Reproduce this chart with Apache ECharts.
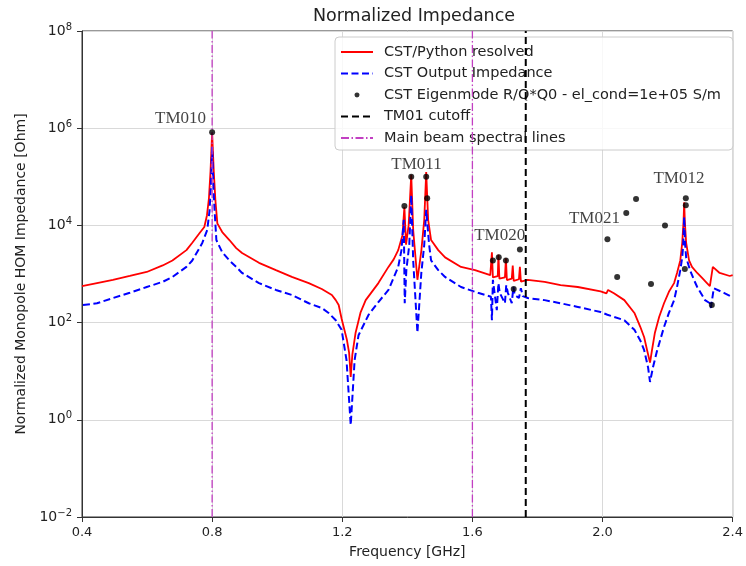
<!DOCTYPE html>
<html><head><meta charset="utf-8">
<script src="https://cdn.jsdelivr.net/npm/echarts@6/dist/echarts.min.js"></script>
<style>html,body{margin:0;padding:0;background:#fff}#c{width:746px;height:566px}</style>
</head><body><div id="c"></div>
<script>
// ---- data (frequency in GHz, impedance in Ohm) ----
const xTicks = [0.4, 0.8, 1.2, 1.6, 2.0, 2.4];
const yExponents = [-2, 0, 2, 4, 6, 8];

const redFreq = [0.400,0.446,0.495,0.547,0.599,0.648,0.678,0.721,0.739,0.761,0.776,0.784,0.790,0.795,0.800,0.805,0.810,0.816,0.831,0.853,0.874,0.892,0.944,0.996,1.045,1.097,1.137,1.168,1.180,1.189,1.198,1.214,1.221,1.226,1.231,1.241,1.256,1.272,1.311,1.342,1.358,1.372,1.385,1.391,1.396,1.404,1.412,1.418,1.431,1.443,1.452,1.458,1.464,1.473,1.495,1.516,1.565,1.608,1.655,1.660,1.663,1.678,1.680,1.683,1.700,1.703,1.706,1.721,1.724,1.727,1.743,1.746,1.749,1.770,1.822,1.871,1.924,1.994,2.012,2.017,2.035,2.067,2.098,2.116,2.128,2.137,2.146,2.152,2.161,2.174,2.189,2.204,2.220,2.229,2.239,2.245,2.249,2.251,2.253,2.257,2.266,2.275,2.291,2.306,2.321,2.330,2.339,2.360,2.391,2.400];
const redZ = [560,650,760,910,1100,1500,1900,3100,4400,6900,9300,16000,35000,130000,800000,130000,33000,11000,7300,5000,3400,2700,1700,1200,870,650,490,370,290,230,120,45,24,7.6,22,62,160,290,650,1400,2000,3100,6300,24000,4000,10000,110000,8000,760,3000,13000,126000,13000,5000,3100,2200,1400,1200,950,2800,850,900,2500,800,850,2100,750,800,1500,720,780,1400,700,760,690,590,540,440,400,470,400,290,158,82,50,27,15,27,62,130,250,430,650,1050,1900,4400,12000,30000,12000,4400,1900,1400,1050,830,650,560,1400,1050,910,950];

const blueFreq = [0.403,0.446,0.495,0.547,0.599,0.648,0.678,0.721,0.739,0.761,0.770,0.785,0.792,0.796,0.800,0.804,0.808,0.813,0.831,0.853,0.874,0.892,0.944,0.996,1.045,1.097,1.137,1.158,1.180,1.198,1.213,1.226,1.238,1.250,1.281,1.311,1.342,1.372,1.382,1.389,1.392,1.397,1.406,1.412,1.418,1.431,1.443,1.452,1.458,1.467,1.473,1.495,1.516,1.565,1.617,1.657,1.660,1.663,1.669,1.675,1.680,1.684,1.700,1.704,1.709,1.721,1.726,1.730,1.743,1.749,1.755,1.770,1.822,1.871,1.924,1.994,2.015,2.067,2.098,2.116,2.128,2.140,2.146,2.155,2.168,2.189,2.204,2.220,2.229,2.239,2.245,2.248,2.251,2.254,2.257,2.269,2.281,2.291,2.315,2.330,2.333,2.342,2.373,2.397,2.400];
const blueZ = [230,250,320,410,540,690,870,1400,1900,3400,4400,8100,20000,60000,410000,60000,18000,5000,2800,1900,1400,1050,650,470,370,250,200,158,112,71,17,0.78,17,55,145,265,470,1400,3100,13000,250,1200,4000,42000,1900,62,1050,4000,21000,4000,1900,1200,870,540,410,340,112,760,370,180,650,410,250,590,410,250,540,370,320,510,350,320,290,250,210,165,145,112,71,43,27,12,6.0,12,27,81,158,290,540,1200,2200,4000,15000,4000,2200,1200,760,540,290,250,200,510,410,340,340];

const eigenFreq = [0.800,1.391,1.412,1.458,1.461,1.663,1.681,1.703,1.727,1.746,2.015,2.045,2.073,2.103,2.149,2.192,2.256,2.256,2.253,2.336];
const eigenZ = [830000,25000,100000,100000,36000,1900,2200,1900,490,3200,5200,870,18000,35000,620,10000,36000,26000,1260,230];

const spectralLines = [0.8, 1.6];
const cutoffFreq = 1.764;
const yRange = [1e-2, 1e8];

const modeNames = ['TM010','TM011','TM020','TM021','TM012'];
const modeLabelFreq = [0.703, 1.428, 1.684, 1.975, 2.235];
const modeLabelZ = [1.6e6, 1.8e5, 6.3e3, 1.4e4, 9.0e4];

// ---- build ----
const zip = (a, b) => a.map((v, i) => [v, b[i]]);
const FONT = 'DejaVu Sans';
const TXT = '#222';

const series = [
  {name:'CST/Python resolved', type:'line', data: zip(redFreq, redZ), showSymbol:false, symbol:'none',
   lineStyle:{color:'#ff0000', width:1.8}, itemStyle:{color:'#ff0000'}, z:3, animation:false},
  {name:'CST Output Impedance', type:'line', data: zip(blueFreq, blueZ), showSymbol:false, symbol:'none',
   lineStyle:{color:'#0000ff', width:2, type:[7,3.5]}, itemStyle:{color:'#0000ff'}, z:4, animation:false},
  {name:'CST Eigenmode R/Q*Q0 - el_cond=1e+05 S/m', type:'scatter', data: zip(eigenFreq, eigenZ), symbolSize:6,
   itemStyle:{color:'#000'}, z:6, animation:false},
  {name:'TM01 cutoff', type:'line', data: yRange.map(v => [cutoffFreq, v]), showSymbol:false, symbol:'none',
   lineStyle:{color:'#000', width:2, type:[7,4]}, itemStyle:{color:'#000'}, z:5, animation:false}
];
spectralLines.forEach(f => series.push({
  name:'Main beam spectral lines', type:'line', data: yRange.map(v => [f, v]), showSymbol:false, symbol:'none',
  lineStyle:{color:'#c23fc2', width:1.3, type:[8,2.5,1.5,2.5]}, itemStyle:{color:'#c23fc2'}, z:5, animation:false
}));
series.push({
  name:'labels', type:'scatter', silent:true, z:7, animation:false,
  data: modeNames.map((n, i) => [modeLabelFreq[i], modeLabelZ[i], n]),
  symbolSize:1, itemStyle:{color:'rgba(0,0,0,0)'},
  label:{show:true, position:'inside', formatter: p => p.value[2],
         fontFamily:'Liberation Serif', fontSize:17, color:'#111'}
});

const supMap = v => String(v).replace('-', '\u2212');
const hidden = {opacity:0};

const chart = echarts.init(document.getElementById('c'), null, {renderer:'canvas'});
chart.setOption({
  animation:false,
  backgroundColor:'#fff',
  title:{text:'Normalized Impedance', left:409, top:2, textAlign:'center',
         textStyle:{fontFamily:FONT, fontSize:17.5, fontWeight:'normal', color:TXT}},
  grid:{left:82, right:10, top:31, bottom:49, show:true, borderColor:'#333', borderWidth:1, backgroundColor:'transparent'},
  legend:{
    orient:'vertical', left:335, top:37,
    data:[{name:'CST/Python resolved', itemStyle:hidden},
      {name:'CST Output Impedance', itemStyle:hidden},
      {name:'CST Eigenmode R/Q*Q0 - el_cond=1e+05 S/m',
       icon:'path://M0,0h0.01M32,14h0.01M13.5,7a2.5,2.5 0 1,0 5,0a2.5,2.5 0 1,0 -5,0'},
      {name:'TM01 cutoff', itemStyle:hidden},
      {name:'Main beam spectral lines', itemStyle:hidden}],
    itemWidth:32, itemHeight:14, itemGap:5.5,
    padding:[7,12,4,5],
    backgroundColor:'rgba(255,255,255,0.8)', borderColor:'#cccccc', borderWidth:1, borderRadius:4,
    textStyle:{fontFamily:FONT, fontSize:14.5, lineHeight:16, color:TXT, padding:[0,0,0,6]},
    selectedMode:false
  },
  xAxis:{
    type:'value', min:xTicks[0], max:xTicks[xTicks.length-1], interval:0.4,
    name:'Frequency [GHz]', nameLocation:'middle', nameGap:28,
    nameTextStyle:{fontFamily:FONT, fontSize:14, color:TXT},
    axisLine:{show:true, onZero:false, lineStyle:{color:'#333'}},
    axisTick:{show:true, length:5, lineStyle:{color:'#333'}},
    axisLabel:{fontFamily:FONT, fontSize:13, color:TXT, margin:9,
      formatter: v => xTicks.indexOf(+v.toFixed(1)) >= 0 ? v.toFixed(1) : ''},
    splitLine:{show:true, lineStyle:{color:'#d9d9d9', width:1}}
  },
  yAxis:{
    type:'log', logBase:10, min:yRange[0], max:yRange[1], interval:2,
    name:'Normalized Monopole HOM Impedance [Ohm]', nameLocation:'middle', nameGap:52,
    nameTextStyle:{fontFamily:FONT, fontSize:14, color:TXT},
    axisLine:{show:true, lineStyle:{color:'#333'}},
    axisTick:{show:true, length:5, lineStyle:{color:'#333'}},
    minorTick:{show:false},
    axisLabel:{fontFamily:FONT, fontSize:14, color:TXT, margin:10,
      formatter: v => {
        const e = Math.round(Math.log10(v));
        return yExponents.indexOf(e) >= 0 ? '{b|10}{s|' + supMap(e) + '}' : '';
      },
      rich:{b:{fontFamily:FONT, fontSize:14, color:TXT},
            s:{fontFamily:FONT, fontSize:10, color:TXT, padding:[0,0,8,0]}}},
    splitLine:{show:true, lineStyle:{color:'#d9d9d9', width:1}}
  },
  series: series
});
</script></body></html>
